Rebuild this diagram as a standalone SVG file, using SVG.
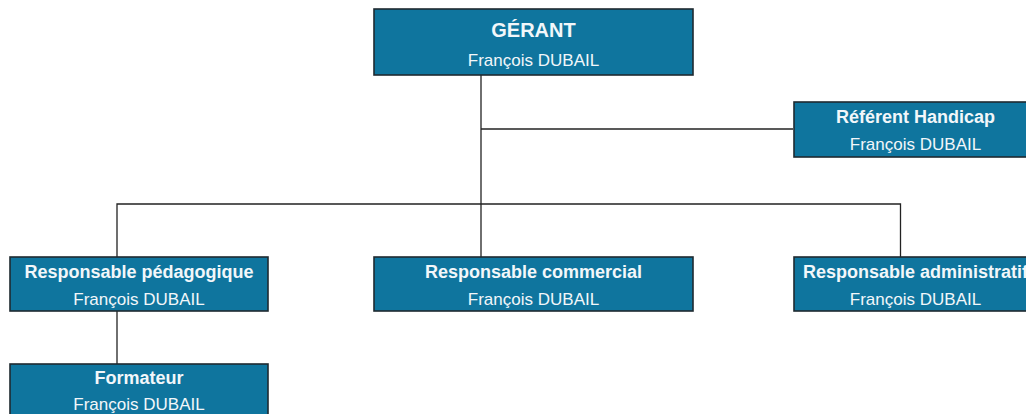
<svg xmlns="http://www.w3.org/2000/svg" width="1026" height="414" viewBox="0 0 1026 414">
<style>
.box{fill:#0f759e;stroke:#1e2a30;stroke-width:1.6}
.t{font-family:"Liberation Sans",Arial,sans-serif;fill:#f2f7fa;text-anchor:middle}
.b{font-weight:bold;font-size:18px}
.r{font-size:17px}
.c{fill:none;stroke:#222;stroke-width:1.3}
</style>
<rect width="1026" height="414" fill="#fff"/>
<g id="connectors">
<path class="c" d="M481 75V257"/>
<path class="c" d="M481 129H793"/>
<path class="c" d="M117 257V204H900.5V257"/>
<path class="c" d="M117 311V364"/>
</g>
<g id="gerant">
<rect class="box" x="374" y="9" width="319" height="66"/>
<text class="t b" x="533.5" y="37" style="font-size:20px">GÉRANT</text>
<text class="t r" x="533.5" y="66">François DUBAIL</text>
</g>
<g id="referent">
<rect class="box" x="794" y="102" width="244" height="55"/>
<text class="t b" x="915.5" y="123">Référent Handicap</text>
<text class="t r" x="915.5" y="150">François DUBAIL</text>
</g>
<g id="resp-pedagogique">
<rect class="box" x="10" y="257" width="258" height="54"/>
<text class="t b" x="139" y="277.5">Responsable pédagogique</text>
<text class="t r" x="139" y="304.5">François DUBAIL</text>
</g>
<g id="resp-commercial">
<rect class="box" x="374" y="257" width="319" height="54"/>
<text class="t b" x="533.5" y="277.5">Responsable commercial</text>
<text class="t r" x="533.5" y="304.5">François DUBAIL</text>
</g>
<g id="resp-administratif">
<rect class="box" x="794" y="257" width="244" height="54"/>
<text class="t b" x="915.5" y="277.5">Responsable administratif</text>
<text class="t r" x="915.5" y="304.5">François DUBAIL</text>
</g>
<g id="formateur">
<rect class="box" x="10" y="364" width="258" height="60"/>
<text class="t b" x="139" y="383.5">Formateur</text>
<text class="t r" x="139" y="409.5">François DUBAIL</text>
</g>
</svg>
